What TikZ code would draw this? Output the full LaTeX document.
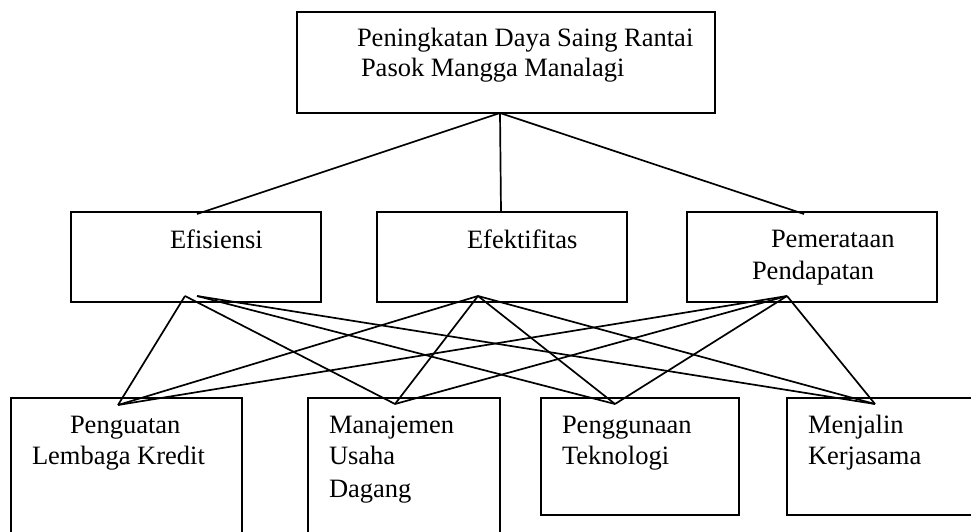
\documentclass[tikz,border=0pt]{standalone}
\usepackage{fontspec}
\setmainfont{Liberation Serif}
\begin{document}
\begin{tikzpicture}[x=1pt,y=-1pt,
  box/.style={draw=black, line width=1.7pt, fill=none, inner sep=0pt, outer sep=0pt, anchor=north west},
  txt/.style={inner sep=0pt, outer sep=0pt, anchor=base west, font=\fontsize{26.5}{30}\selectfont},
  link/.style={draw=black, line width=1.7pt}]
\useasboundingbox (0,0) rectangle (971,532);
% boxes
\node[box, minimum width=418pt, minimum height=101pt] (top) at (297,12) {};
\node[box, minimum width=250pt, minimum height=90pt] (efi) at (71,212) {};
\node[box, minimum width=250pt, minimum height=90pt] (efk) at (377,212) {};
\node[box, minimum width=250pt, minimum height=90pt] (pem) at (687,212) {};
\node[box, minimum width=231pt, minimum height=150pt] (pen) at (11,398) {};
\node[box, minimum width=192pt, minimum height=150pt] (man) at (308,398) {};
\node[box, minimum width=198pt, minimum height=117pt] (peg) at (541,398) {};
\node[box, minimum width=200pt, minimum height=117pt] (mej) at (787,398) {};
% texts
\node[txt] (topT1) at (357,47) {Peningkatan Daya Saing Rantai};
\node[txt] (topT2) at (361,77) {Pasok Mangga Manalagi};
\node[txt] (efiT) at (170,248) {Efisiensi};
\node[txt] (efkT) at (467,248) {Efektifitas};
\node[txt] (pemT1) at (771,247) {Pemerataan};
\node[txt] (pemT2) at (752,279) {Pendapatan};
\node[txt] (penT1) at (70,433) {Penguatan};
\node[txt] (penT2) at (32,464) {Lembaga Kredit};
\node[txt] (manT1) at (329,433) {Manajemen};
\node[txt] (manT2) at (329,464) {Usaha};
\node[txt] (manT3) at (329,497) {Dagang};
\node[txt] (pegT1) at (562,433) {Penggunaan};
\node[txt] (pegT2) at (562,464) {Teknologi};
\node[txt] (mejT1) at (808,433) {Menjalin};
\node[txt] (mejT2) at (808,464) {Kerjasama};
% attach points
\coordinate (topB) at (500,113);
\coordinate (efiUp) at (197,214);
\coordinate (efkUp) at (501,212);
\coordinate (pemUp) at (804,214);
\coordinate (efiB1) at (185,296);
\coordinate (efiB2) at (197,296);
\coordinate (efkB) at (478,296);
\coordinate (pemB) at (787,296);
\coordinate (penUp) at (118,405);
\coordinate (manUp) at (395,404);
\coordinate (pegUp) at (615,404);
\coordinate (mejUp) at (875,404);
% connectors
\draw[link] (topB) -- (efiUp);
\draw[link] (topB) -- (efkUp);
\draw[link] (topB) -- (pemUp);
\draw[link] (efiB1) -- (penUp);
\draw[link] (efiB1) -- (manUp);
\draw[link] (efiB2) -- (pegUp);
\draw[link] (efiB2) -- (mejUp);
\draw[link] (efkB) -- (penUp);
\draw[link] (efkB) -- (manUp);
\draw[link] (efkB) -- (pegUp);
\draw[link] (efkB) -- (mejUp);
\draw[link] (pemB) -- (penUp);
\draw[link] (pemB) -- (manUp);
\draw[link] (pemB) -- (pegUp);
\draw[link] (pemB) -- (mejUp);
\end{tikzpicture}
\end{document}
